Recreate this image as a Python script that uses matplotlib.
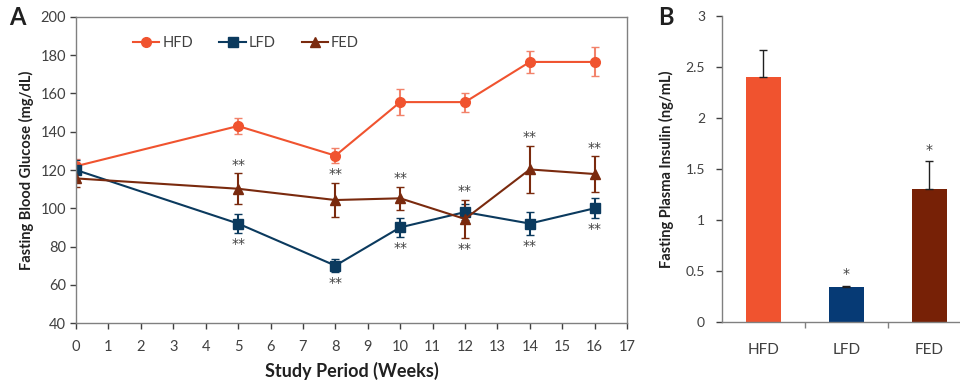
import numpy as np
import matplotlib.pyplot as plt
from matplotlib.lines import Line2D

plt.rcParams['font.family'] = ['Lato', 'DejaVu Sans']

# Fasting blood glucose over the study period
weeks = [0, 5, 8, 10, 12, 14, 16]
hfd_glu = [122, 143, 127.5, 155.5, 155.5, 176.5, 176.5]
hfd_glu_err = [4, 4.3, 4, 7, 5, 5.7, 7.6]
lfd_glu = [120, 92, 70, 90, 98, 92, 100]
lfd_glu_err = [5, 4.8, 3.3, 4.8, 4, 6, 5.2]
fed_glu = [115.6, 110.2, 104.3, 105.2, 94.4, 120.3, 117.9]
fed_glu_err = [4.6, 8, 9, 6, 10, 12.4, 9.3]
sig_weeks = [5, 8, 10, 12, 14, 16]

# Fasting plasma insulin at the end
groups = ['HFD', 'LFD', 'FED']
insulin = [2.40, 0.34, 1.30]
insulin_err = [0.27, 0.015, 0.28]
insulin_sig = ['', '*', '*']

c_hfd = '#F0532F'
c_hfd_err = '#F2826A'
c_lfd = '#0B3A5E'
c_lfd_bar = '#063A75'
c_fed = '#7A2A0E'
c_fed_bar = '#772106'
c_text = '#404040'
c_dark = '#202020'
c_spine = '#808080'
star_font = dict(family='DejaVu Sans', fontsize=10, color=c_text)

fig = plt.figure(figsize=(9.6, 3.81), dpi=100)

# ---- panel A: glucose time course
ax = fig.add_axes([0.0792, 0.1522, 0.5740, 0.8032])
series = [
    ('HFD', hfd_glu, hfd_glu_err, c_hfd, c_hfd_err, 'o'),
    ('LFD', lfd_glu, lfd_glu_err, c_lfd, c_lfd, 's'),
    ('FED', fed_glu, fed_glu_err, c_fed, c_fed, '^'),
]
handles = []
for name, vals, errs, col, ecol, mk in series:
    ax.errorbar(weeks, vals, yerr=errs, color=col, ecolor=ecol, marker=mk, ms=7,
                lw=1.5, capsize=3, elinewidth=1.5)
    handles.append(Line2D([], [], color=col, marker=mk, ms=7, lw=1.5, label=name))

for w in sig_weeks:
    i = weeks.index(w)
    top = max(lfd_glu[i] + lfd_glu_err[i], fed_glu[i] + fed_glu_err[i])
    bot = min(lfd_glu[i] - lfd_glu_err[i], fed_glu[i] - fed_glu_err[i])
    ax.annotate('**', (w, top), xytext=(0, 1), textcoords='offset points',
                ha='center', va='bottom', **star_font)
    ax.annotate('**', (w, bot), xytext=(0, -3), textcoords='offset points',
                ha='center', va='top', **star_font)

ax.set_xlim(0, 17)
ax.set_ylim(40, 200)
ax.set_xticks(range(0, 18))
ax.set_yticks(range(40, 201, 20))
ax.tick_params(labelsize=10.5, colors=c_text, length=4, width=1, pad=8)
ax.tick_params(axis='y', pad=3)
for s in ax.spines.values():
    s.set_color(c_spine)
    s.set_linewidth(1)
ax.set_xlabel('Study Period (Weeks)', fontsize=13, fontweight='bold', color=c_dark, labelpad=6)
ax.set_ylabel('Fasting Blood Glucose (mg/dL)', fontsize=10.5, fontweight='bold', color=c_dark, labelpad=5)
ax.legend(handles=handles, loc='upper left', bbox_to_anchor=(0.08, 0.98), ncol=3,
          frameon=False, fontsize=10.5, handlelength=1.8, handletextpad=0.2,
          columnspacing=1.8, labelcolor=c_text)
fig.text(0.010, 0.935, 'A', fontsize=17, fontweight='bold', color=c_dark)

# ---- panel B: insulin bars
bx = fig.add_axes([0.7518, 0.1556, 0.2594, 0.8024])
xpos = np.arange(len(groups))
bx.bar(xpos, insulin, width=0.42, color=[c_hfd, c_lfd_bar, c_fed_bar], zorder=2)
bx.errorbar(xpos, insulin, yerr=[np.zeros(len(insulin)), insulin_err], fmt='none',
            ecolor=c_dark, elinewidth=1, capsize=3, capthick=1, zorder=3)
for x, v, e, s in zip(xpos, insulin, insulin_err, insulin_sig):
    if s:
        bx.annotate(s, (x, v + e), xytext=(0, 3), textcoords='offset points',
                    ha='center', va='bottom', **star_font)
bx.set_xlim(-0.5, 2.5)
bx.set_ylim(0, 3)
bx.set_yticks([0, 0.5, 1, 1.5, 2, 2.5, 3])
bx.set_yticklabels(['0', '0.5', '1', '1.5', '2', '2.5', '3'])
bx.set_xticks(xpos)
bx.set_xticklabels(groups)
bx.set_xticks([0.5, 1.5], minor=True)
bx.tick_params(axis='x', which='major', length=0, pad=15, labelsize=11, colors=c_text)
bx.tick_params(axis='x', which='minor', length=4, width=1, color=c_spine)
bx.tick_params(axis='y', labelsize=10, colors=c_text, length=4, width=1, pad=8)
bx.spines['top'].set_visible(False)
bx.spines['right'].set_visible(False)
for s in ('left', 'bottom'):
    bx.spines[s].set_color(c_spine)
    bx.spines[s].set_linewidth(1)
bx.set_ylabel('Fasting Plasma Insulin (ng/mL)', fontsize=10.5, fontweight='bold', color=c_dark, labelpad=8)
fig.text(0.686, 0.935, 'B', fontsize=17, fontweight='bold', color=c_dark)

fig.savefig('out.png', dpi=100)
